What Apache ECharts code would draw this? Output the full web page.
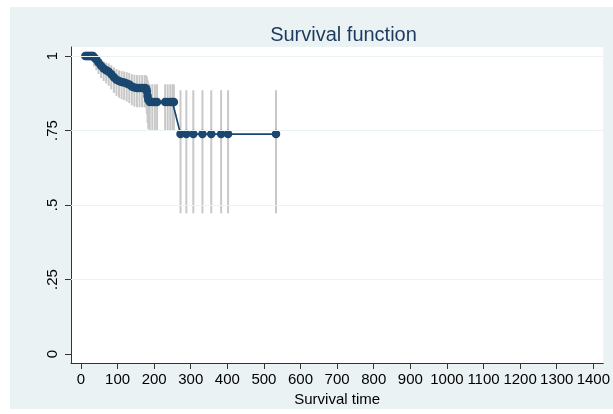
<!DOCTYPE html>
<html><head><meta charset="utf-8">
<script src="https://cdn.jsdelivr.net/npm/echarts@6/dist/echarts.min.js"></script>
<style>html,body{margin:0;padding:0;background:#fff}#c{width:613px;height:414px}</style>
</head><body><div id="c"></div>
<script>
// Kaplan-Meier estimate
const times    = [12,15,18,21,24,27,30,33,36,42,48,55,62,69,76,83,90,97,104,111,118,125,132,139,146,153,160,167,174,178,180,182,184,188,195,202,208,230,237,244,250,254,272,288,307,332,356,383,402,533];
const survival = [1,1,1,1,1,1,1,1,0.995,0.988,0.978,0.967,0.958,0.952,0.947,0.939,0.929,0.920,0.916,0.913,0.911,0.908,0.904,0.898,0.894,0.893,0.893,0.893,0.893,0.891,0.882,0.866,0.853,0.846,0.846,0.846,0.846,0.846,0.846,0.846,0.846,0.846,0.738,0.738,0.738,0.738,0.738,0.738,0.738,0.738];
const ciLower  = [null,null,null,null,null,null,null,null,0.965,0.952,0.940,0.926,0.916,0.908,0.900,0.888,0.876,0.866,0.860,0.855,0.852,0.847,0.842,0.835,0.830,0.828,0.828,0.828,0.828,0.825,0.805,0.775,0.755,0.750,0.750,0.750,0.750,0.750,0.750,0.750,0.750,0.750,0.472,0.472,0.472,0.472,0.472,0.472,0.472,0.472];
const ciUpper  = [null,null,null,null,null,null,null,null,0.999,0.997,0.993,0.987,0.982,0.978,0.975,0.969,0.962,0.956,0.952,0.950,0.948,0.946,0.943,0.939,0.937,0.936,0.936,0.936,0.936,0.935,0.930,0.920,0.910,0.905,0.905,0.905,0.905,0.905,0.905,0.905,0.905,0.905,0.885,0.885,0.885,0.885,0.885,0.885,0.885,0.885];
const xTicks = [0,100,200,300,400,500,600,700,800,900,1000,1100,1200,1300,1400];
const yTicks = [0,0.25,0.5,0.75,1];
const yTickLabels = ['0','.25','.5','.75','1'];
const titleText = 'Survival function';
const xTitle = 'Survival time';

const lineData = times.map((t,i)=>[t, survival[i]]);
const ciData = [];
times.forEach((t,i)=>{ if(ciLower[i]!==null) ciData.push([t, ciLower[i], ciUpper[i]]); });

const FONT = 'Liberation Sans, Arial, sans-serif';
const chart = echarts.init(document.getElementById('c'), null, {renderer:'canvas'});
chart.setOption({
  animation:false,
  backgroundColor:'#ffffff',
  graphic:[{type:'rect', z:-10, shape:{x:10,y:7,width:603,height:402}, style:{fill:'#EAF2F3'}, silent:true}],
  title:{text:titleText, left:338.5, textAlign:'center', top:20,
    textStyle:{fontFamily:FONT, fontSize:20, fontWeight:'normal', color:'#1c3a5e'}},
  grid:{left:71, top:47, right:7, bottom:51, show:true, backgroundColor:'#ffffff', borderWidth:0, containLabel:false},
  xAxis:{type:'value', min:-27.2, max:1427.2,
    name:xTitle, nameLocation:'middle', nameGap:25,
    nameTextStyle:{fontFamily:FONT, fontSize:15, color:'#000'},
    axisLine:{show:true, onZero:false, lineStyle:{color:'#333', width:1}},
    axisTick:{show:true, length:6, customValues:xTicks, lineStyle:{color:'#333'}},
    axisLabel:{customValues:xTicks, margin:9, fontFamily:FONT, fontSize:15, color:'#000',
      formatter:(v)=>String(Math.round(v))},
    splitLine:{show:false}},
  yAxis:{type:'value', min:-0.0302, max:1.0302,
    axisLine:{show:true, onZero:false, lineStyle:{color:'#333', width:1}},
    axisTick:{show:true, length:6, customValues:yTicks, lineStyle:{color:'#333'}},
    axisLabel:{customValues:yTicks, rotate:90, margin:11, fontFamily:FONT, fontSize:15, color:'#000',
      formatter:(v)=>{ const k = yTicks.findIndex(y=>Math.abs(y-v)<1e-6); return k>=0 ? yTickLabels[k] : ''; }},
    splitLine:{show:false}},
  series:[
    {type:'line', data:[], silent:true, symbol:'none',
      markLine:{silent:true, symbol:'none', label:{show:false}, animation:false,
        lineStyle:{color:'#EAF2F3', width:1.2, type:'solid'},
        data: yTicks.filter(v=>v>0).map(v=>({yAxis:v}))}, z:1},
    {type:'custom', data:ciData, encode:{x:0, y:[1,2]}, z:2, silent:true,
      renderItem:(params, api)=>{
        const t = api.value(0), lo = api.value(1), hi = api.value(2);
        const p1 = api.coord([t, lo]), p2 = api.coord([t, hi]);
        return {type:'line', shape:{x1:p1[0], y1:p1[1], x2:p2[0], y2:p2[1]},
          style:{stroke:'#c8c8c8', lineWidth:2}};
      }},
    {type:'line', data:lineData, z:3, symbol:'circle', symbolSize:8.5, showSymbol:true,
      itemStyle:{color:'#1a476f'}, lineStyle:{color:'#1a476f', width:1.7}}
  ]
});
</script></body></html>
